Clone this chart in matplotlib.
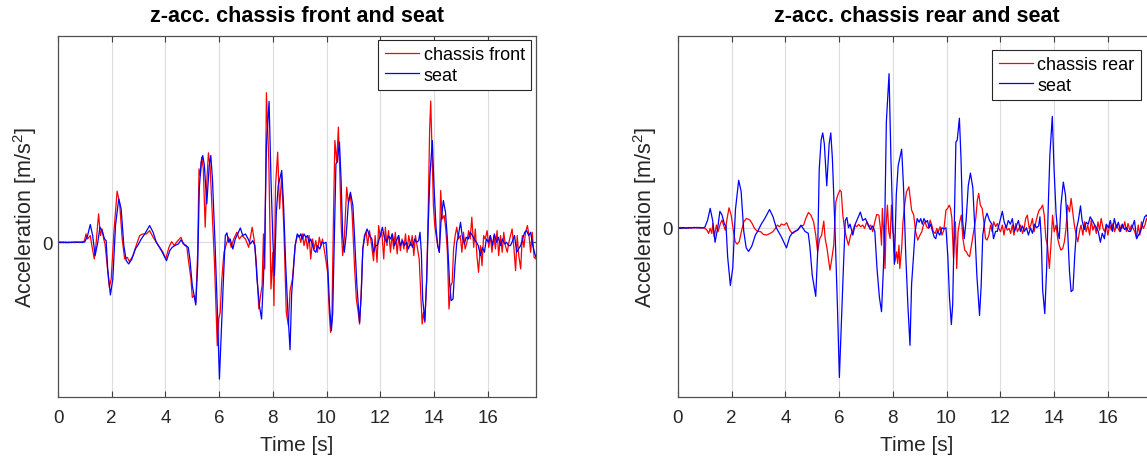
import numpy as np
import matplotlib.pyplot as plt

# z-acceleration traces, values in m/s^2 over time in s

# chassis front
t_front = [0.00, 0.10, 0.20, 0.30, 0.40, 0.50, 0.60, 0.70, 0.80, 0.90, 0.98, 1.04, 1.10, 1.20, 1.26, 1.35,
           1.41, 1.51, 1.58, 1.64, 1.70, 1.75, 1.83, 1.91, 1.98, 2.08, 2.20, 2.29, 2.39, 2.48, 2.58, 2.66,
           2.79, 2.91, 3.04, 3.16, 3.29, 3.41, 3.54, 3.66, 3.79, 3.91, 4.01, 4.13, 4.23, 4.33, 4.43, 4.58,
           4.66, 4.79, 4.85, 4.95, 5.00, 5.08, 5.13, 5.20, 5.25, 5.30, 5.35, 5.41, 5.48, 5.54, 5.60, 5.66,
           5.73, 5.83, 5.93, 5.98, 6.04, 6.10, 6.18, 6.25, 6.35, 6.45, 6.54, 6.66, 6.75, 6.85, 6.98, 7.10,
           7.23, 7.30, 7.38, 7.48, 7.54, 7.60, 7.65, 7.70, 7.76, 7.85, 7.93, 8.00, 8.04, 8.10, 8.18, 8.25,
           8.33, 8.41, 8.50, 8.58, 8.64, 8.73, 8.83, 8.91, 8.98, 9.04, 9.10, 9.16, 9.23, 9.29, 9.35, 9.41,
           9.48, 9.54, 9.60, 9.66, 9.73, 9.79, 9.85, 9.95, 10.04, 10.10, 10.15, 10.20, 10.25, 10.31, 10.38,
           10.44, 10.50, 10.55, 10.60, 10.66, 10.75, 10.81, 10.88, 10.95, 11.04, 11.11, 11.18, 11.23, 11.29,
           11.35, 11.41, 11.48, 11.53, 11.60, 11.68, 11.75, 11.81, 11.88, 11.94, 12.00, 12.06, 12.13, 12.19,
           12.25, 12.31, 12.38, 12.44, 12.50, 12.56, 12.63, 12.69, 12.75, 12.81, 12.88, 12.94, 13.00, 13.06,
           13.13, 13.19, 13.25, 13.31, 13.38, 13.45, 13.51, 13.56, 13.61, 13.66, 13.73, 13.79, 13.84, 13.88,
           13.93, 13.98, 14.03, 14.08, 14.14, 14.20, 14.25, 14.31, 14.38, 14.44, 14.50, 14.56, 14.63, 14.68,
           14.73, 14.79, 14.85, 14.91, 14.98, 15.04, 15.10, 15.16, 15.23, 15.29, 15.35, 15.41, 15.48, 15.54,
           15.60, 15.66, 15.73, 15.79, 15.85, 15.91, 15.98, 16.04, 16.10, 16.16, 16.23, 16.29, 16.35, 16.41,
           16.48, 16.54, 16.60, 16.66, 16.73, 16.79, 16.85, 16.91, 16.98, 17.04, 17.10, 17.16, 17.23, 17.29,
           17.35, 17.41, 17.48, 17.54, 17.60, 17.66, 17.73, 17.80]
a_front = [0.00, 0.05, -0.05, 0.04, -0.06, 0.03, -0.04, 0.05, -0.03, 0.06, 0.10, 0.81, 0.32, 0.65, -0.32, -1.62,
           -0.32, 2.75, 0.65, 1.29, 0.32, -0.16, -2.27, -4.37, -3.56, 0.97, 4.95, 3.88, 0.32, -1.62, -1.46, -1.88,
           -1.29, -0.32, 0.65, 0.81, 0.81, 1.13, 0.49, 0.00, -0.49, -0.97, -1.62, -0.49, 0.06, -0.32, 0.06, 0.49,
           -0.16, -0.32, -1.62, -3.56, -5.34, -5.18, -5.83, -0.97, 7.12, 6.47, 8.25, 7.12, 1.46, 5.83, 8.67, 7.44,
           3.56, -2.27, -10.03, -7.44, -6.80, -3.56, -0.97, -0.32, 0.49, -0.49, 0.32, 0.97, 0.32, 0.65, 0.32, -0.49,
           1.46, 0.32, -1.78, -6.47, -5.18, -4.21, 0.81, -2.59, 14.50, 7.77, -4.53, -0.97, -6.15, 5.50, 8.74, 3.24,
           6.47, 1.29, -6.80, -8.09, -4.69, -3.56, -0.32, 0.65, 0.65, 0.00, 0.81, -0.32, 0.49, -0.65, 0.65, -1.62,
           0.32, -0.65, 0.16, -0.97, 0.49, -0.32, 0.32, -1.29, -2.91, -6.80, -8.74, -7.44, 1.29, 9.87, 7.77,
           11.17, 6.15, 1.29, -1.29, 0.32, 5.34, 3.88, 4.69, 2.91, -2.27, -5.50, -6.80, -7.93, -4.85,
           -0.65, 0.65, 0.97, -0.32, 1.13, -0.32, -1.78, 0.65, -1.94, 1.62, 0.49, 0.97, -1.62, 1.46,
           -0.32, 1.13, -0.97, 0.81, -0.65, 0.97, -1.13, 0.65, -0.81, 0.32, -0.65, 0.81, -0.97, 0.65,
           -0.32, 0.65, -1.29, 0.65, -0.49, -1.62, -5.18, -7.93, -6.80, -7.77, -3.56, 3.56, 11.00, 13.69,
           8.74, 3.56, 1.62, 0.65, -0.32, -0.97, 5.02, 2.27, 2.59, 1.29, -0.97, -6.47, -4.21, -3.88,
           -0.65, 0.65, 1.46, 0.32, 0.65, -0.97, 0.97, -0.65, 0.00, 1.13, 0.32, 2.43, -0.49, 1.29,
           -1.29, -2.91, -0.32, -2.27, 0.65, 0.32, 1.13, -0.49, 0.65, -0.97, 0.65, -0.65, 1.13, -1.29,
           0.65, -0.97, 0.97, -0.32, -0.97, 0.00, 0.65, 1.29, -0.65, -2.75, 0.65, -1.29, -2.59, 0.65,
           -0.49, 0.97, 1.62, 0.65, -0.97, 0.97, -1.46, -1.62]

# seat (same sensor in both plots)
t_seat = [0.00, 0.10, 0.20, 0.30, 0.40, 0.50, 0.60, 0.70, 0.80, 0.90, 1.00, 1.10, 1.20, 1.29, 1.38, 1.48,
          1.56, 1.64, 1.73, 1.79, 1.85, 1.95, 2.04, 2.14, 2.26, 2.35, 2.45, 2.54, 2.63, 2.75, 2.88, 2.98,
          3.10, 3.23, 3.41, 3.54, 3.66, 3.85, 4.04, 4.16, 4.25, 4.35, 4.48, 4.58, 4.73, 4.85, 4.91, 5.00,
          5.13, 5.20, 5.26, 5.33, 5.39, 5.45, 5.54, 5.63, 5.69, 5.75, 5.85, 5.94, 6.01, 6.08, 6.16, 6.23,
          6.29, 6.35, 6.41, 6.51, 6.60, 6.69, 6.79, 6.88, 6.98, 7.08, 7.16, 7.25, 7.33, 7.41, 7.50, 7.58,
          7.65, 7.70, 7.76, 7.86, 7.93, 8.00, 8.06, 8.13, 8.20, 8.33, 8.40, 8.48, 8.56, 8.64, 8.70, 8.76,
          8.83, 8.91, 8.98, 9.04, 9.10, 9.16, 9.23, 9.29, 9.35, 9.41, 9.48, 9.54, 9.60, 9.66, 9.75, 9.83,
          9.91, 9.98, 10.05, 10.11, 10.18, 10.23, 10.29, 10.35, 10.40, 10.48, 10.54, 10.60, 10.66, 10.73,
          10.81, 10.89, 10.98, 11.04, 11.13, 11.23, 11.29, 11.35, 11.44, 11.51, 11.60, 11.69, 11.75, 11.83,
          11.89, 11.98, 12.08, 12.15, 12.23, 12.30, 12.38, 12.45, 12.53, 12.60, 12.68, 12.75, 12.83, 12.90,
          12.98, 13.05, 13.13, 13.20, 13.28, 13.35, 13.43, 13.48, 13.53, 13.58, 13.66, 13.73, 13.79, 13.85,
          13.94, 14.00, 14.08, 14.14, 14.20, 14.26, 14.35, 14.43, 14.50, 14.58, 14.64, 14.71, 14.78, 14.85,
          14.91, 14.99, 15.05, 15.13, 15.20, 15.28, 15.35, 15.43, 15.50, 15.58, 15.65, 15.73, 15.80, 15.88,
          15.95, 16.03, 16.10, 16.18, 16.25, 16.33, 16.40, 16.48, 16.55, 16.63, 16.70, 16.78, 16.85, 16.93,
          17.00, 17.08, 17.15, 17.23, 17.30, 17.38, 17.45, 17.53, 17.60, 17.68, 17.74, 17.80]
a_seat = [0.00, -0.04, 0.03, -0.05, 0.02, -0.03, 0.04, -0.02, 0.03, -0.03, 0.05, 0.65, 1.72, 0.65, -1.29, 0.00,
          1.46, 1.13, 0.32, 0.16, -2.59, -5.11, -3.56, 1.62, 4.21, 3.24, -0.32, -1.78, -2.10, -1.62, -0.65, -0.26,
          0.32, 0.81, 1.62, 0.97, 0.00, -0.81, -1.78, -0.81, -0.49, -0.32, -0.16, 0.23, -0.32, -0.49, -1.62, -4.21,
          -6.08, -2.27, 5.18, 7.77, 8.41, 7.44, 3.72, 7.44, 8.41, 6.15, -0.32, -7.12, -13.27, -8.74, -3.56, 0.65,
          0.91, 0.00, 0.32, -0.65, 0.32, 0.81, 1.39, 0.65, 0.81, 0.32, -0.16, 0.16, -0.32, -3.56, -6.15, -7.44,
          -3.56, 0.32, 9.39, 13.66, 6.15, 0.32, -3.24, 2.91, 5.50, 6.96, 3.56, -2.27, -6.80, -10.42, -4.98, -2.91,
          -0.32, 0.81, 0.49, 0.81, 0.32, 0.81, 0.49, 0.65, 0.00, 0.32, -0.32, -0.81, -0.97, -0.32, -0.65, 0.00,
          -0.10, 0.00, -2.59, -6.15, -8.58, -6.80, 0.65, 7.61, 7.77, 9.71, 6.15, 0.65, -0.97, 0.65,
          3.72, 4.85, 3.56, 0.65, -4.21, -7.77, -5.18, -0.65, 0.81, 1.29, 0.65, 0.32, -0.97, -0.32,
          -0.32, 0.49, 1.46, 0.49, 0.00, 0.65, 0.32, 0.81, -0.32, 0.16, 0.65, -0.32, 0.16, -0.32,
          0.00, -0.65, 0.00, -0.49, 0.32, 0.00, 0.16, 0.97, -0.97, -5.50, -7.61, -3.56, 1.94, 6.47,
          9.87, 5.50, 1.29, -0.32, -0.97, 1.94, 4.05, 2.91, 0.32, -3.88, -5.66, -5.50, -2.27, 0.00,
          0.65, 1.94, 0.65, -0.16, 0.49, 0.32, 0.97, 0.65, 0.32, 0.00, -0.32, -1.29, -0.49, -0.97,
          0.32, 0.00, 0.65, -0.32, 0.81, 0.00, 0.49, -0.32, 0.32, -0.16, 0.00, -0.32, -0.32, 0.16,
          0.65, -0.97, -0.65, -0.32, 0.32, 0.97, 1.13, 0.65, 0.97, -0.32, -0.97, -1.46]

# chassis rear
t_rear = [0.00, 0.10, 0.20, 0.30, 0.40, 0.50, 0.60, 0.70, 0.80, 0.90, 1.00, 1.08, 1.14, 1.20, 1.26, 1.30,
          1.35, 1.43, 1.49, 1.58, 1.64, 1.70, 1.76, 1.83, 1.90, 1.98, 2.05, 2.13, 2.20, 2.28, 2.36, 2.45,
          2.55, 2.68, 2.76, 2.85, 2.95, 3.08, 3.18, 3.30, 3.43, 3.53, 3.63, 3.70, 3.78, 3.85, 3.95, 4.05,
          4.13, 4.20, 4.28, 4.35, 4.45, 4.55, 4.68, 4.76, 4.86, 4.95, 5.05, 5.13, 5.20, 5.28, 5.35, 5.43,
          5.48, 5.55, 5.60, 5.66, 5.73, 5.80, 5.88, 5.95, 6.03, 6.08, 6.14, 6.20, 6.28, 6.35, 6.43, 6.50,
          6.58, 6.65, 6.73, 6.80, 6.88, 6.95, 7.03, 7.10, 7.18, 7.25, 7.33, 7.40, 7.48, 7.54, 7.58, 7.61,
          7.66, 7.71, 7.75, 7.80, 7.85, 7.90, 7.95, 8.00, 8.04, 8.08, 8.14, 8.18, 8.23, 8.26, 8.33, 8.38,
          8.44, 8.51, 8.60, 8.65, 8.70, 8.78, 8.85, 8.93, 9.01, 9.08, 9.14, 9.20, 9.26, 9.33, 9.39, 9.45,
          9.51, 9.58, 9.64, 9.70, 9.76, 9.83, 9.90, 9.98, 10.04, 10.10, 10.15, 10.20, 10.26, 10.33, 10.38,
          10.43, 10.49, 10.55, 10.61, 10.68, 10.74, 10.80, 10.86, 10.93, 11.01, 11.09, 11.15, 11.20, 11.26,
          11.33, 11.39, 11.45, 11.51, 11.58, 11.64, 11.70, 11.76, 11.83, 11.89, 11.95, 12.01, 12.08, 12.14,
          12.20, 12.26, 12.33, 12.39, 12.45, 12.51, 12.58, 12.64, 12.70, 12.76, 12.83, 12.89, 12.95, 13.01,
          13.08, 13.14, 13.20, 13.26, 13.33, 13.39, 13.45, 13.51, 13.58, 13.64, 13.70, 13.76, 13.83, 13.89,
          13.95, 14.01, 14.08, 14.14, 14.20, 14.26, 14.33, 14.39, 14.45, 14.51, 14.58, 14.64, 14.70, 14.76,
          14.83, 14.89, 14.95, 15.01, 15.08, 15.14, 15.20, 15.26, 15.33, 15.39, 15.45, 15.51, 15.58, 15.64,
          15.70, 15.76, 15.83, 15.89, 15.95, 16.01, 16.08, 16.14, 16.20, 16.26, 16.33, 16.39, 16.45, 16.51,
          16.58, 16.64, 16.70, 16.76, 16.83, 16.89, 16.95, 17.01, 17.08, 17.14, 17.20, 17.26, 17.33, 17.39,
          17.45, 17.53, 17.60, 17.70, 17.80]
a_rear = [0.00, 0.03, -0.03, 0.02, -0.04, 0.03, -0.02, 0.04, -0.03, 0.02, -0.05, -0.21, -0.50, -0.06, -0.50, 0.38,
          -0.80, 0.24, -0.35, 0.38, 0.68, 0.24, -0.21, 0.83, 1.77, 1.12, -0.06, -1.24, -1.45, -1.24, -0.35, 0.53,
          0.83, 0.68, 0.38, -0.06, -0.30, -0.35, -0.59, -0.65, -0.50, -0.35, -0.06, 0.24, 0.09, 0.33, 0.24, 0.44,
          -0.06, -0.35, -0.50, -0.35, -0.21, 0.09, 0.24, 0.83, 1.36, 1.12, 0.53, -0.65, -2.13, -0.95, -0.65, 0.59,
          -0.95, -1.83, -2.72, -3.75, -2.72, -1.54, 2.30, 2.90, 3.34, 3.19, 1.12, -0.06, -0.95, -1.54, -0.65, -0.35,
          0.24, 0.09, 0.30, 0.09, 0.24, -0.06, 0.53, 0.09, 0.24, -0.35, 0.53, 1.18, 1.12, -0.06, -1.54, 1.71,
          -0.35, -3.61, 0.24, 2.01, -0.35, -0.95, 2.01, -0.35, -0.65, -3.01, -2.13, -3.16, -1.54, -3.61, -1.83, 0.53,
          2.01, 3.19, 3.63, 2.60, 1.57, 1.12, -0.35, -1.09, -0.65, -0.35, 0.24, 0.53, 0.09, -0.06, 0.68, 0.24,
          -0.35, -0.50, -0.06, -0.35, 0.09, -0.65, -0.21, 1.57, 1.71, 2.01, 1.71, 0.83, -2.72, 0.53, -3.61,
          -0.35, 0.53, 1.12, -0.95, -1.98, -2.13, -2.42, -2.57, -1.54, -0.35, 0.83, 2.46, 3.05, 2.01,
          1.71, 0.53, -0.95, -1.09, -0.65, 0.24, -0.35, 0.53, 0.09, 0.38, -0.06, -0.35, 0.24, -0.65,
          0.24, -0.21, -0.06, -0.50, 0.24, -0.65, 0.38, -0.35, -0.06, 0.24, -0.50, -0.06, 0.83, 1.12,
          -0.06, 0.24, 0.83, -0.35, 0.53, 1.12, 1.57, 1.71, 2.01, 1.12, -0.95, -1.54, -3.61, -1.54,
          1.12, -0.35, 0.24, -0.95, -1.54, -1.98, -1.83, -1.24, -0.06, 2.01, 1.42, 2.60, 1.42, 0.24,
          -0.65, -1.24, -0.35, 0.24, -0.65, 0.53, -0.35, 0.24, -0.65, 0.68, -0.21, 0.24, -0.50, 0.53,
          -0.21, 0.83, -0.06, -0.35, 0.24, -0.65, 0.24, -0.21, 0.38, -0.35, 0.24, -0.06, -0.35, 0.24,
          -0.06, 0.53, -0.35, 0.38, -0.21, 0.24, -0.06, -0.35, -0.95, 0.24, -0.65, 0.53, -0.06, 0.24,
          0.83, 0.24, -0.30, 0.20, -0.10]

x_ticks = [0, 2, 4, 6, 8, 10, 12, 14, 16]

plt.rcParams['font.family'] = ['Liberation Sans', 'DejaVu Sans']
plt.rcParams['mathtext.fontset'] = 'custom'
plt.rcParams['mathtext.rm'] = 'Liberation Sans'
text_col = '#262626'


def style_axes(ax, ylim, title):
    ax.set_xlim(0, 17.8)
    ax.set_ylim(*ylim)
    ax.set_xticks(x_ticks)
    ax.set_yticks([0])
    ax.grid(True, color='#dcdcdc', linewidth=0.8)
    ax.set_axisbelow(True)
    ax.tick_params(direction='in', top=True, right=True, length=4, width=0.8,
                   labelsize=13.5, colors='#404040', labelcolor=text_col)
    ax.tick_params(axis='x', pad=9)
    ax.tick_params(axis='y', pad=4)
    for sp in ax.spines.values():
        sp.set_color('#505050')
        sp.set_linewidth(0.9)
    ax.set_title(title, fontsize=15.5, fontweight='bold', color='black', pad=11)
    ax.set_xlabel('Time [s]', fontsize=15, color=text_col, labelpad=6)
    ax.set_ylabel('Acceleration [m/s$^{2}$]', fontsize=15.5, color=text_col, labelpad=2)


def add_legend(ax, anchor):
    leg = ax.legend(loc='upper right', bbox_to_anchor=anchor, fontsize=13,
                    handlelength=1.9, handletextpad=0.25, labelspacing=0.2, borderpad=0.35,
                    borderaxespad=0.0, fancybox=False, framealpha=1, edgecolor='#262626')
    leg.get_frame().set_linewidth(0.8)


fig = plt.figure(figsize=(11.47, 4.6), dpi=100)

# gauche : avant du chassis
ax1 = fig.add_axes([0.0506, 0.1348, 0.4167, 0.7848])
ax1.plot(t_front, a_front, color='red', linewidth=0.9, label='chassis front')
ax1.plot(t_seat, a_seat, color='blue', linewidth=0.9, label='seat')
style_axes(ax1, (-15, 20), 'z-acc. chassis front and seat')
add_legend(ax1, (0.9895, 0.99))

# droite : arriere du chassis
ax2 = fig.add_axes([0.5911, 0.1348, 0.4167, 0.7848])
ax2.plot(t_rear, a_rear, color='red', linewidth=0.9, label='chassis rear')
ax2.plot(t_seat, a_seat, color='blue', linewidth=0.9, label='seat')
style_axes(ax2, (-15, 17), 'z-acc. chassis rear and seat')
add_legend(ax2, (0.9686, 0.962))

fig.savefig('out.png', dpi=100)
